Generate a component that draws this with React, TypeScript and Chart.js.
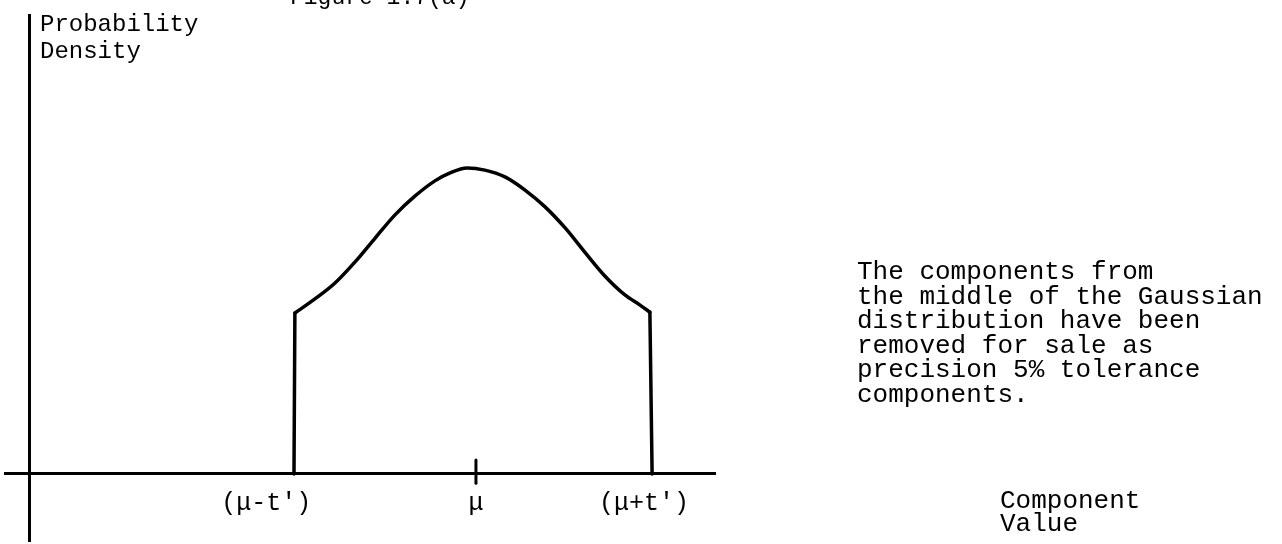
import React, { useEffect, useRef } from "react";
import { Chart, registerables } from "chart.js";

Chart.register(...registerables);

// ---- data (arbitrary component-value units; μ = 10, density peak = 1) ----
const curveX = [5.94, 6.39, 6.84, 7.29, 7.74, 8.18, 8.63, 9.08, 9.42, 9.8, 10.2, 10.65, 11.1, 11.55, 12.0, 12.44, 12.89, 13.34, 13.68, 13.9];
const curveY = [0.526, 0.572, 0.624, 0.693, 0.771, 0.846, 0.908, 0.958, 0.984, 1.0, 0.993, 0.971, 0.928, 0.873, 0.804, 0.725, 0.647, 0.585, 0.552, 0.529];
const lowerCutX = [5.92, 5.94];
const lowerCutY = [0, 0.526];
const upperCutX = [13.95, 13.9];
const upperCutY = [0, 0.529];
const muValue = 10;
const muTickSpan = [-0.03, 0.046];

const xTickValues = [5.3, 10, 13.77];
const xTickLabels = ["(μ-t')", "μ", "(μ+t')"];

const titleText = "Figure 1.7(a)";
const yTitleLines = ["Probability", "Density"];
const xTitleLines = ["Component", "Value"];
const noteLines = [
  "The components from",
  "the middle of the Gaussian",
  "distribution have been",
  "removed for sale as",
  "precision 5% tolerance",
  "components.",
];

const X_MIN = -0.56;
const X_MAX = 15.36;
const Y_MIN = -0.219;
const Y_MAX = 1.5;

const FONT = '"Liberation Mono", "DejaVu Sans Mono", monospace';

const zip = (xs: number[], ys: number[]) => xs.map((x, i) => ({ x, y: ys[i] }));

const textPlugin = {
  id: "paperTexts",
  afterDraw(chart: any) {
    const ctx = chart.ctx as CanvasRenderingContext2D;
    ctx.save();
    ctx.fillStyle = "#000";
    ctx.textBaseline = "alphabetic";
    ctx.textAlign = "left";
    ctx.font = `23px ${FONT}`;
    ctx.fillText(titleText, 290, 4);
    ctx.font = `24px ${FONT}`;
    yTitleLines.forEach((l, i) => ctx.fillText(l, 40, 31 + i * 27));
    ctx.font = `26px ${FONT}`;
    noteLines.forEach((l, i) => ctx.fillText(l, 857, 279 + i * 24.6));
    xTitleLines.forEach((l, i) => ctx.fillText(l, 1000, 508 + i * 23));
    ctx.restore();
  },
};

export default function App() {
  const ref = useRef<HTMLCanvasElement | null>(null);

  useEffect(() => {
    if (!ref.current) return;
    const lineStyle = {
      borderColor: "#000",
      borderWidth: 3.5,
      pointRadius: 0,
      showLine: true,
      fill: false,
      borderJoinStyle: "round" as const,
      borderCapStyle: "round" as const,
    };
    const chart = new Chart(ref.current, {
      type: "scatter",
      data: {
        datasets: [
          { ...lineStyle, data: zip(curveX, curveY), cubicInterpolationMode: "monotone" as const },
          { ...lineStyle, data: zip(lowerCutX, lowerCutY), tension: 0 },
          { ...lineStyle, data: zip(upperCutX, upperCutY), tension: 0 },
          { ...lineStyle, borderWidth: 3, data: muTickSpan.map((y) => ({ x: muValue, y })), tension: 0 },
        ],
      },
      options: {
        animation: false,
        responsive: true,
        maintainAspectRatio: false,
        layout: { padding: { left: 5, top: 15, right: 567, bottom: 3 } },
        plugins: { legend: { display: false }, tooltip: { enabled: false }, title: { display: false } },
        scales: {
          x: {
            type: "linear",
            min: X_MIN,
            max: X_MAX,
            position: { y: 0 } as any,
            border: { display: true, color: "#000", width: 3 },
            grid: { display: false },
            afterBuildTicks: (s: any) => {
              s.ticks = xTickValues.map((v) => ({ value: v }));
            },
            ticks: {
              autoSkip: false,
              maxRotation: 0,
              color: "#000",
              padding: 6,
              font: { family: FONT, size: 25 },
              callback: (_v: any, i: number) => xTickLabels[i],
            },
          },
          y: {
            type: "linear",
            min: Y_MIN,
            max: Y_MAX,
            position: { x: 0 } as any,
            border: { display: true, color: "#000", width: 3 },
            grid: { display: false },
            ticks: { display: false },
          },
        },
      },
      plugins: [textPlugin],
    });
    return () => chart.destroy();
  }, []);

  return (
    <div style={{ position: "fixed", left: 0, top: 0, width: 1282, height: 544, background: "#fff" }}>
      <canvas ref={ref} />
    </div>
  );
}
